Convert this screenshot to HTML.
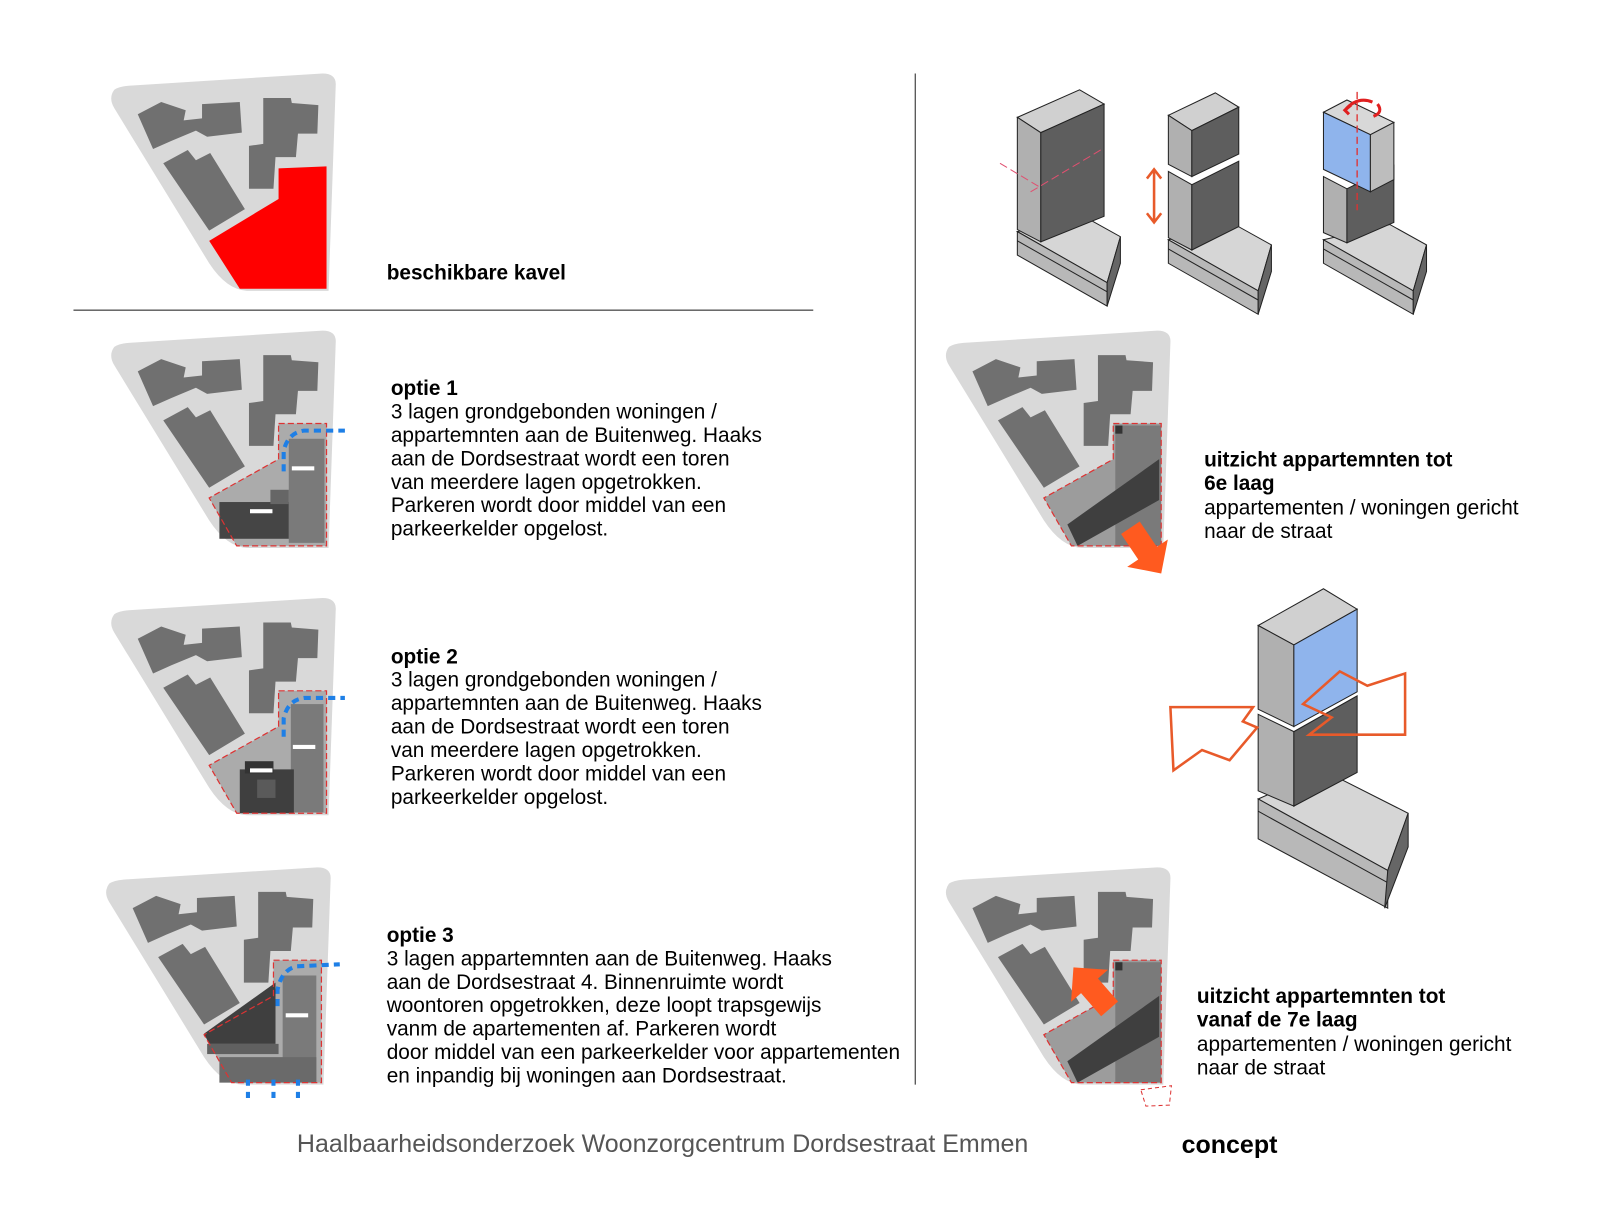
<!DOCTYPE html>
<html><head><meta charset="utf-8"><style>
html,body{margin:0;padding:0;background:#fff;}
svg{display:block;}
text{font-family:"Liberation Sans",Arial,sans-serif;}
</style></head><body>
<svg width="1600" height="1231" viewBox="0 0 1600 1231" xmlns="http://www.w3.org/2000/svg">
<defs>
<g id="site">
  <path d="M112,88 Q106,96 112,106 L205,258 Q222,284 242,285 L322,285 L329,84 Q330,72 316,72 L126,84 Q116,85 112,88 Z" fill="#d9d9d9"/>
  <path d="M135,112 L158,100 L182,108 L180,118 L198,116 L198,102 L235,100 L237,130 L203,134 L192,128 L168,138 L150,146 Z" fill="#707070"/>
  <path d="M160,160 L184,147 L192,157 L206,150 L240,205 L205,226 Z" fill="#707070"/>
  <path d="M258,96 L285,96 L286,101 L312,103 L311,131 L292,131 L290,154 L270,154 L268,185 L244,185 L244,143 L258,141 Z" fill="#707070"/>
</g>
<g id="blk">
  <polygon points="997,227 1062,212 1098,232 1085,277" fill="#d6d6d6" stroke="#222" stroke-width="1"/>
  <polygon points="997,227 1085,277 1085,300 997,250" fill="#b8b8b8" stroke="#222" stroke-width="1"/>
  <line x1="997" y1="236" x2="1085" y2="286" stroke="#222"/>
  <polygon points="1085,277 1098,232 1098,258 1085,300" fill="#666" stroke="#222" stroke-width="1"/>
</g>
<polygon id="arr" points="-54,-11 -24,-11 -24,-24 0,0 -24,24 -24,11 -54,11" fill="#ff5a1f"/>
</defs>
<g transform="scale(1.0204)">
<line x1="72" y1="304" x2="797" y2="304" stroke="#555" stroke-width="1.3"/>
<line x1="897" y1="72" x2="897" y2="1063" stroke="#555" stroke-width="1.3"/>

<use href="#site"/>
<polygon points="273,165 320,163 320,283 235,283 205,236 273,195" fill="#ff0000"/>
<text x="379" y="274" font-size="20.4" font-weight="bold">beschikbare kavel</text>

<g transform="translate(0,252)">
<use href="#site"/>
<polygon points="273,163 320,163 320,283 232,283 205,236 273,198" fill="#ababab"/>
<rect x="283" y="178" width="35" height="102" fill="#7a7a7a"/>
<rect x="215" y="240" width="68" height="36" fill="#454545"/>
<rect x="265" y="228" width="18" height="14" fill="#666"/>
<polygon points="273,163 320,163 320,283 232,283 205,236 273,198" fill="none" stroke="#d33" stroke-width="1.2" stroke-dasharray="6,3"/>
<path d="M278,210 L278,190 Q282,172 298,170 L338,170" fill="none" stroke="#1e7fe6" stroke-width="4" stroke-dasharray="7,5"/>
<rect x="286" y="205" width="22" height="4" fill="#fff"/><rect x="245" y="247" width="22" height="4" fill="#fff"/>
</g>
<text font-size="20.4"><tspan x="383" y="387" font-weight="bold">optie 1</tspan><tspan x="383" y="410">3 lagen grondgebonden woningen /</tspan><tspan x="383" y="433">appartemnten aan de Buitenweg. Haaks</tspan><tspan x="383" y="456">aan de Dordsestraat wordt een toren</tspan><tspan x="383" y="479">van meerdere lagen opgetrokken.</tspan><tspan x="383" y="502">Parkeren wordt door middel van een</tspan><tspan x="383" y="525">parkeerkelder opgelost.</tspan></text>

<g transform="translate(0,514)">
<use href="#site"/>
<polygon points="273,163 320,163 320,283 232,283 205,236 273,198" fill="#ababab"/>
<rect x="285" y="176" width="32" height="106" fill="#7a7a7a"/>
<rect x="235" y="240" width="53" height="43" fill="#3f3f3f"/>
<rect x="240" y="232" width="28" height="12" fill="#333"/>
<rect x="252" y="250" width="18" height="18" fill="#5a5a5a"/>
<polygon points="273,163 320,163 320,283 232,283 205,236 273,198" fill="none" stroke="#d33" stroke-width="1.2" stroke-dasharray="6,3"/>
<path d="M278,208 L278,190 Q282,172 298,170 L338,170" fill="none" stroke="#1e7fe6" stroke-width="4" stroke-dasharray="7,5"/>
<rect x="287" y="216" width="22" height="4" fill="#fff"/><rect x="245" y="239" width="22" height="4" fill="#fff"/>
</g>
<text font-size="20.4"><tspan x="383" y="650" font-weight="bold">optie 2</tspan><tspan x="383" y="673">3 lagen grondgebonden woningen /</tspan><tspan x="383" y="696">appartemnten aan de Buitenweg. Haaks</tspan><tspan x="383" y="719">aan de Dordsestraat wordt een toren</tspan><tspan x="383" y="742">van meerdere lagen opgetrokken.</tspan><tspan x="383" y="765">Parkeren wordt door middel van een</tspan><tspan x="383" y="788">parkeerkelder opgelost.</tspan></text>

<g transform="translate(-5,778)">
<use href="#site"/>
<polygon points="273,163 320,163 320,283 232,283 205,236 273,198" fill="#ababab"/>
<rect x="282" y="178" width="33" height="104" fill="#7a7a7a"/>
<polygon points="205,235 275,185 275,245 210,245" fill="#3f3f3f"/>
<rect x="208" y="245" width="70" height="10" fill="#606060"/>
<rect x="220" y="258" width="95" height="25" fill="#6a6a6a"/>
<polygon points="273,163 320,163 320,283 232,283 205,236 273,198" fill="none" stroke="#d33" stroke-width="1.2" stroke-dasharray="6,3"/>
<path d="M277,208 L277,192 Q281,172 296,169 L338,167" fill="none" stroke="#1e7fe6" stroke-width="4" stroke-dasharray="7,5"/>
<rect x="285" y="215" width="22" height="4" fill="#fff"/>
<path d="M248,280 L248,300 M273,280 L273,300 M297,280 L297,300" stroke="#1e7fe6" stroke-width="4" stroke-dasharray="6,6"/>
</g>
<text font-size="20.4"><tspan x="379" y="923" font-weight="bold">optie 3</tspan><tspan x="379" y="946">3 lagen appartemnten aan de Buitenweg. Haaks</tspan><tspan x="379" y="969">aan de Dordsestraat 4. Binnenruimte wordt</tspan><tspan x="379" y="992">woontoren opgetrokken, deze loopt trapsgewijs</tspan><tspan x="379" y="1015">vanm de apartementen af. Parkeren wordt</tspan><tspan x="379" y="1038">door middel van een parkeerkelder voor appartementen</tspan><tspan x="379" y="1061">en inpandig bij woningen aan Dordsestraat.</tspan></text>

<g>
<use href="#blk"/>
<polygon points="997,115 1058,88 1082,102 1020,130" fill="#d0d0d0" stroke="#222"/>
<polygon points="997,115 1020,130 1020,237 997,225" fill="#b0b0b0" stroke="#222"/>
<polygon points="1020,130 1082,102 1082,212 1020,237" fill="#5e5e5e" stroke="#222"/>
<path d="M980,160 L1020,184 M1010,188 L1082,145" stroke="#e05070" stroke-width="1" stroke-dasharray="8,4"/>
</g>
<g transform="translate(148,8)">
<use href="#blk"/>
<polygon points="997,105 1043,83 1066,97 1020,120" fill="#d0d0d0" stroke="#222"/>
<polygon points="997,105 1020,120 1020,165 997,153" fill="#b0b0b0" stroke="#222"/>
<polygon points="1020,120 1066,97 1066,143 1020,165" fill="#5e5e5e" stroke="#222"/>
<polygon points="997,160 1020,173 1020,237 997,225" fill="#b0b0b0" stroke="#222"/>
<polygon points="1020,173 1066,150 1066,214 1020,237" fill="#5e5e5e" stroke="#222"/>
</g>
<path d="M1131,168 L1131,216 M1124,175 L1131,166 L1138,175 M1124,209 L1131,218 L1138,209" stroke="#e85a2a" stroke-width="2.5" fill="none"/>
<g transform="translate(300,8)">
<use href="#blk"/>
<polygon points="997,165 1020,177 1020,230 997,220" fill="#b0b0b0" stroke="#222"/>
<polygon points="1020,177 1066,154 1066,210 1020,230" fill="#5e5e5e" stroke="#222"/>
<polygon points="997,102 1020,90 1066,112 1043,124" fill="#d8d8d8" stroke="#222"/>
<polygon points="997,102 1043,124 1043,180 997,158" fill="#8fb4ec" stroke="#222"/>
<polygon points="1043,124 1066,112 1066,168 1043,180" fill="#bdbdbd" stroke="#222"/>
<path d="M1030,82 L1030,198" stroke="#e03030" stroke-width="1.3" stroke-dasharray="7,4"/>
<path d="M1018,100 Q1030,86 1045,92 M1022,104 L1018,100 L1024,95 M1050,94 Q1056,102 1046,106" stroke="#e02020" stroke-width="3" fill="none"/>
</g>

<g transform="translate(818,252)">
<use href="#site"/>
<polygon points="273,163 320,163 320,283 232,283 205,236 273,198" fill="#9c9c9c"/>
<rect x="275" y="165" width="45" height="118" fill="#7a7a7a"/>
<polygon points="228,262 318,198 318,238 238,283" fill="#3f3f3f"/>
<rect x="275" y="165" width="7" height="8" fill="#333"/>
<polygon points="273,163 320,163 320,283 232,283 205,236 273,198" fill="none" stroke="#d33" stroke-width="1.2" stroke-dasharray="6,3"/>
<use href="#arr" transform="translate(320,310) rotate(56)"/>
</g>
<text font-size="20.4"><tspan x="1180" y="457" font-weight="bold">uitzicht appartemnten tot</tspan><tspan x="1180" y="480" font-weight="bold">6e laag</tspan><tspan x="1180" y="504">appartementen / woningen gericht</tspan><tspan x="1180" y="527">naar de straat</tspan></text>

<polygon points="1233,783 1297,755 1380,797 1360,853" fill="#d6d6d6" stroke="#222"/>
<polygon points="1233,783 1360,853 1360,890 1233,822" fill="#b8b8b8" stroke="#222"/>
<line x1="1233" y1="795" x2="1360" y2="865" stroke="#222"/>
<polygon points="1360,853 1380,797 1380,830 1357,890" fill="#666" stroke="#222"/>
<polygon points="1233,700 1268,717 1268,790 1233,775" fill="#b0b0b0" stroke="#222"/>
<polygon points="1268,717 1330,682 1330,757 1268,790" fill="#5e5e5e" stroke="#222"/>
<polygon points="1233,613 1297,577 1330,597 1268,632" fill="#d0d0d0" stroke="#222"/>
<polygon points="1233,613 1268,632 1268,712 1233,695" fill="#b0b0b0" stroke="#222"/>
<polygon points="1268,632 1330,597 1330,678 1268,712" fill="#8fb4ec" stroke="#222"/>
<path d="M1147,693 L1228,693 L1218,707 L1232,713 L1205,745 L1178,735 L1150,755 Z" fill="none" stroke="#e85a2a" stroke-width="2.5"/>
<path d="M1277,690 L1313,658 L1340,672 L1377,660 L1377,720 L1283,720 L1305,703 Z" fill="none" stroke="#e85a2a" stroke-width="2.5"/>

<g transform="translate(818,778)">
<use href="#site"/>
<polygon points="273,163 320,163 320,283 232,283 205,236 273,198" fill="#9c9c9c"/>
<rect x="275" y="165" width="45" height="118" fill="#7a7a7a"/>
<polygon points="228,262 318,198 318,238 238,283" fill="#3f3f3f"/>
<rect x="275" y="165" width="7" height="8" fill="#333"/>
<polygon points="273,163 320,163 320,283 232,283 205,236 273,198" fill="none" stroke="#d33" stroke-width="1.2" stroke-dasharray="6,3"/>
<use href="#arr" transform="translate(234,170) rotate(-131)"/>
<path d="M300,290 L330,286 L328,305 L305,306 Z" fill="none" stroke="#d33" stroke-width="1" stroke-dasharray="4,3"/>
</g>
<text font-size="20.4"><tspan x="1173" y="983" font-weight="bold">uitzicht appartemnten tot</tspan><tspan x="1173" y="1006" font-weight="bold">vanaf de 7e laag</tspan><tspan x="1173" y="1030">appartementen / woningen gericht</tspan><tspan x="1173" y="1053">naar de straat</tspan></text>

<text x="291" y="1129" font-size="24.5" fill="#555">Haalbaarheidsonderzoek Woonzorgcentrum Dordsestraat Emmen</text>
<text x="1158" y="1130" font-size="24.5" font-weight="bold">concept</text>
</g>
</svg>
</body></html>
